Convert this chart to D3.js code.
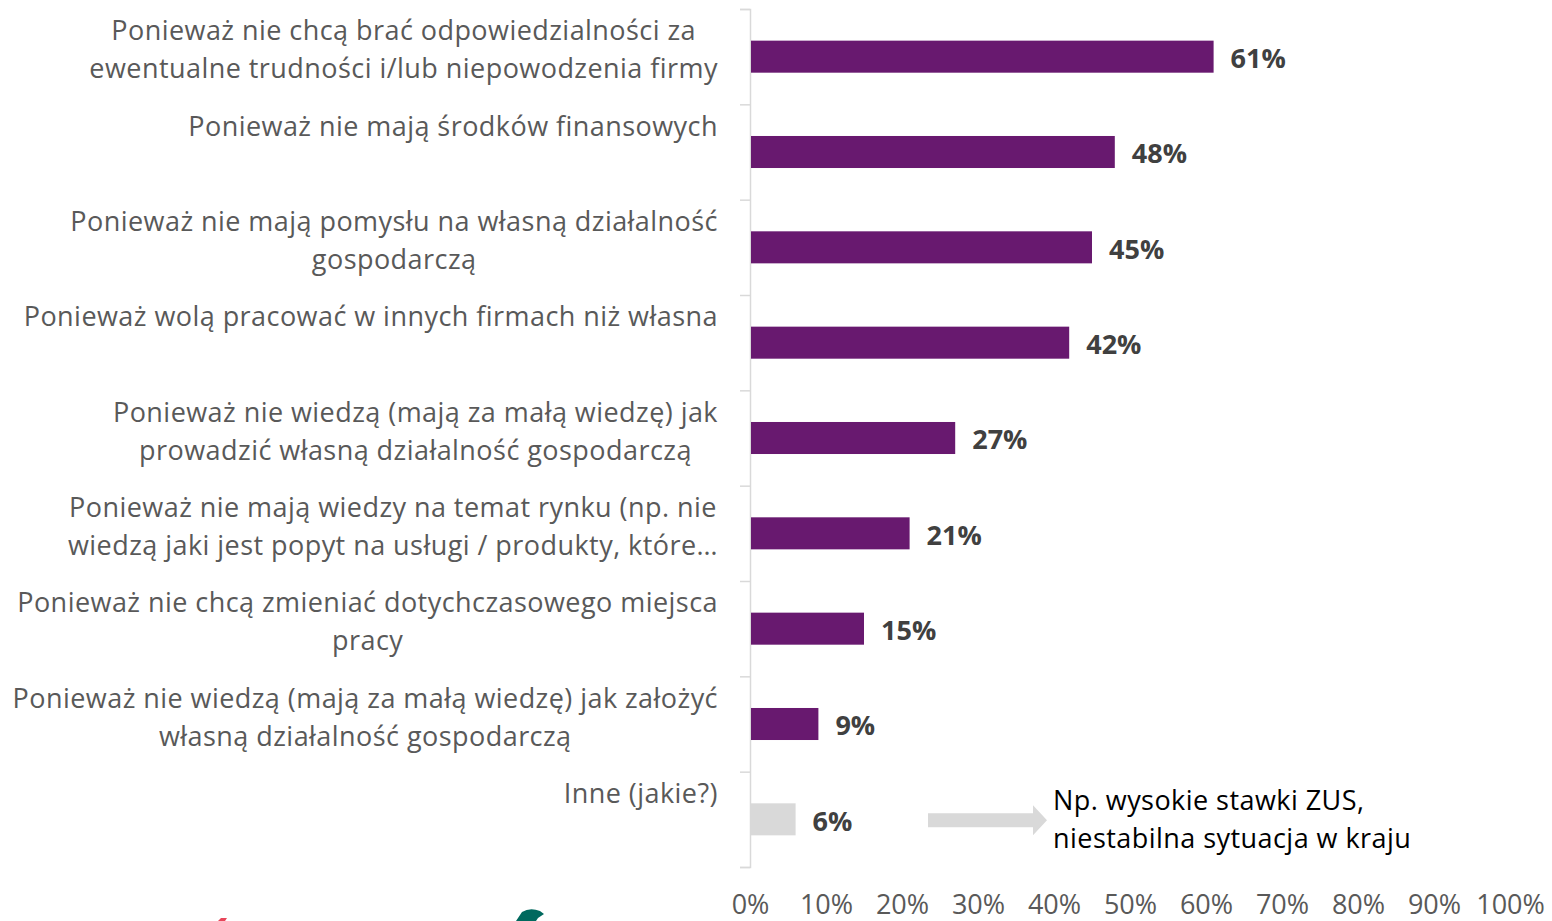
<!DOCTYPE html>
<html>
<head>
<meta charset="utf-8">
<script src="https://cdn.jsdelivr.net/npm/d3@7"></script>
<style>
    body { margin: 0; background: #fff; }
    svg { display: block; font-family: "Open Sans", sans-serif; }
</style>
</head>
<body>
<div id="Chart"></div>
<script>
// Category labels (each one split in lines like in the original)
var categories = [
    ["Ponieważ nie chcą brać odpowiedzialności za", "ewentualne trudności i/lub niepowodzenia firmy"],
    ["Ponieważ nie mają środków finansowych"],
    ["Ponieważ nie mają pomysłu na własną działalność", "gospodarczą"],
    ["Ponieważ wolą pracować w innych firmach niż własna"],
    ["Ponieważ nie wiedzą (mają za małą wiedzę)  jak", "prowadzić własną działalność gospodarczą"],
    ["Ponieważ nie mają wiedzy na temat rynku (np. nie", "wiedzą jaki jest popyt na usługi / produkty, które…"],
    ["Ponieważ nie chcą zmieniać dotychczasowego miejsca", "pracy"],
    ["Ponieważ nie wiedzą (mają za małą wiedzę) jak założyć", "własną działalność gospodarczą"],
    ["Inne (jakie?)"]
];
var values = [0.61, 0.48, 0.45, 0.42, 0.27, 0.21, 0.15, 0.09, 0.06];
var xTicks = [0, 0.1, 0.2, 0.3, 0.4, 0.5, 0.6, 0.7, 0.8, 0.9, 1.0];
var note = ["Np. wysokie stawki ZUS,", "niestabilna sytuacja w kraju"];

var W = 1552, H = 921;
var purple = "#68196f", grey = "#d9d9d9";
var fs = "27px", ls = "0.45px";

var svg = d3.select("#Chart").append("svg")
    .attr("width", W)
    .attr("height", H);

// scales
var x = d3.scaleLinear().domain([0, 1]).range([750, 1510]);
var idx = d3.range(categories.length);
var pad = 0.664;
var y = d3.scaleBand().domain(idx).range([9, 867])
    .paddingInner(pad).paddingOuter(pad / 2);
var yEdge = d3.scaleLinear().domain([0, categories.length]).range([9, 867]);

// vertical axis with ticks between categories
var yAxis = svg.append("g")
    .attr("transform", "translate(750,0)")
    .call(d3.axisLeft(yEdge).ticks(categories.length).tickFormat("").tickSizeOuter(0).tickSize(10));
yAxis.selectAll("line, path").attr("stroke", grey).attr("stroke-width", 1.5);

// x axis labels only (no line, no ticks)
var xAxis = svg.append("g")
    .attr("transform", "translate(0,867)")
    .call(d3.axisBottom(x).tickValues(xTicks).tickFormat(d3.format(".0%")).tickSize(0).tickPadding(28));
xAxis.select(".domain").remove();
xAxis.selectAll("text")
    .attr("fill", "#595959")
    .style("font-size", fs)
    .style("font-family", "'Open Sans', sans-serif");

// bars
svg.selectAll("rect.bar")
    .data(values)
    .enter()
    .append("rect")
    .attr("class", "bar")
    .attr("x", x(0) + 1)
    .attr("y", function (d, i) { return y(i); })
    .attr("width", function (d) { return x(d) - x(0) - 1; })
    .attr("height", y.bandwidth())
    .attr("fill", function (d, i) { return i === values.length - 1 ? grey : purple; });

// value labels
svg.selectAll("text.val")
    .data(values)
    .enter()
    .append("text")
    .attr("class", "val")
    .attr("x", function (d) { return x(d) + 17; })
    .attr("y", function (d, i) { return y(i) + y.bandwidth() / 2 + 2; })
    .attr("dy", "0.35em")
    .attr("fill", "#404040")
    .style("font-size", fs)
    .style("font-weight", "bold")
    .text(function (d) { return Math.round(d * 100) + "%"; });

// category labels: block right aligned at 718, lines centred in the block
var labelRight = 718;
categories.forEach(function (lines, i) {
    var top = yEdge(i);
    var g = svg.append("g");
    var texts = lines.map(function (line, k) {
        return g.append("text")
            .attr("y", top + 22 + k * 38)
            .attr("dy", "0.35em")
            .attr("text-anchor", "middle")
            .attr("fill", "#595959")
            .style("font-size", fs)
            .style("letter-spacing", ls)
            .text(line);
    });
    var maxW = d3.max(texts, function (t) { return t.node().getComputedTextLength(); });
    texts.forEach(function (t) { t.attr("x", labelRight - maxW / 2); });
});

// annotation arrow for "Inne"
var ay = y(values.length - 1) + y.bandwidth() / 2 + 1;
svg.append("path")
    .attr("d", "M928," + (ay - 7) + " H1033 V" + (ay - 15) + " L1047," + ay +
        " L1033," + (ay + 15) + " V" + (ay + 7) + " H928 Z")
    .attr("fill", grey);

svg.selectAll("text.note")
    .data(note)
    .enter()
    .append("text")
    .attr("class", "note")
    .attr("x", 1053)
    .attr("y", function (d, i) { return ay - 20 + i * 38; })
    .attr("dy", "0.35em")
    .attr("fill", "#000")
    .style("font-size", fs)
    .style("letter-spacing", ls)
    .text(function (d) { return d; });

// bits of the logos cut off by the bottom edge
svg.append("path")
    .attr("d", "M516,921 L522,912 Q530,907 540,911 L544,914 L538,918 L536,921 Z")
    .attr("fill", "#00695e");
svg.append("path")
    .attr("d", "M218,921 L221,918 L227,918 L225,921 Z")
    .attr("fill", "#e8465a");
</script>
</body>
</html>
